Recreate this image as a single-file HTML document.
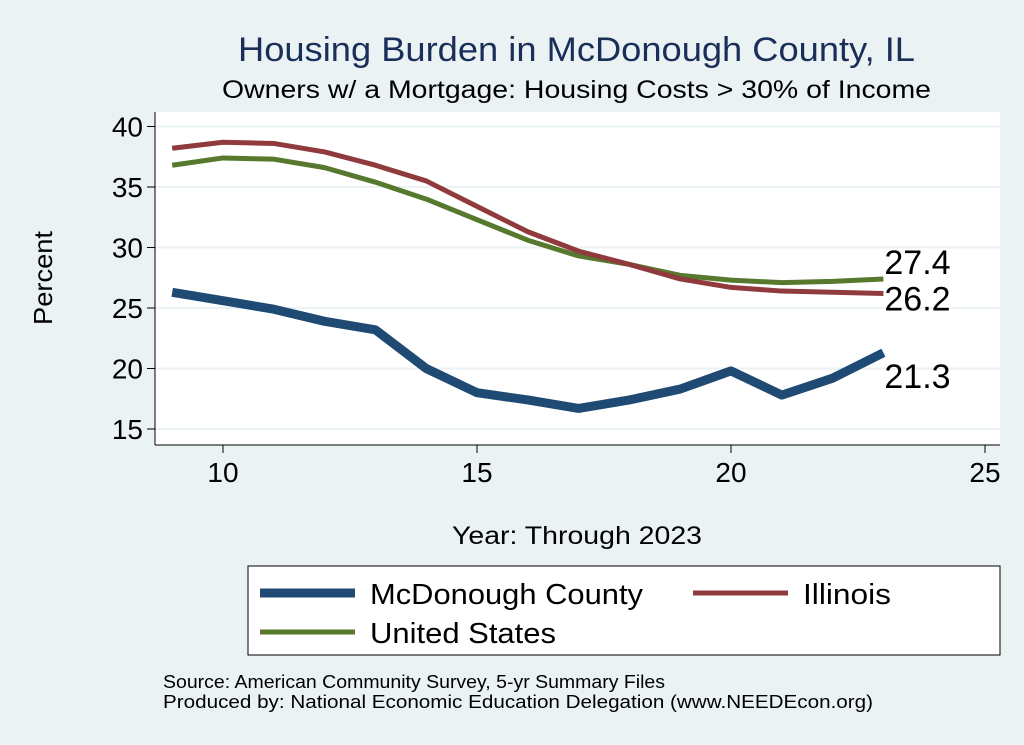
<!DOCTYPE html>
<html><head><meta charset="utf-8"><style>
body{margin:0;background:#eaf2f3;}
svg{display:block;font-family:"Liberation Sans",sans-serif;}
</style></head><body>
<svg id="c" width="1024" height="745">
<rect x="0" y="0" width="1024" height="745" fill="#eaf2f3"/>
<text x="238" y="61" font-size="34" textLength="677" lengthAdjust="spacingAndGlyphs" fill="#1a2e5a">Housing Burden in McDonough County, IL</text>
<text x="222" y="98" font-size="25" textLength="709" lengthAdjust="spacingAndGlyphs" fill="#000">Owners w/ a Mortgage: Housing Costs &gt; 30% of Income</text>
<rect x="155" y="112" width="845" height="333" fill="#fff"/>
<g id="grid"></g><g id="axes"></g><g id="series"></g>
<text x="52" y="278" text-anchor="middle" font-size="26" textLength="94" lengthAdjust="spacingAndGlyphs" transform="rotate(-90 52 278)">Percent</text>
<text x="452" y="544" font-size="25" textLength="250" lengthAdjust="spacingAndGlyphs">Year: Through 2023</text>
<g>
<rect x="248" y="566" width="752" height="89" fill="#fff" stroke="#000" stroke-width="1"/>
<line x1="260" y1="593" x2="355" y2="593" stroke="#1f4a73" stroke-width="9"/>
<text x="370" y="604" font-size="29" textLength="273" lengthAdjust="spacingAndGlyphs">McDonough County</text>
<line x1="693" y1="593" x2="788" y2="593" stroke="#903a3e" stroke-width="5"/>
<text x="803" y="604" font-size="29" textLength="88" lengthAdjust="spacingAndGlyphs">Illinois</text>
<line x1="260" y1="632" x2="355" y2="632" stroke="#56792e" stroke-width="5"/>
<text x="370" y="643" font-size="29" textLength="186" lengthAdjust="spacingAndGlyphs">United States</text>
</g>
<text x="163" y="688" font-size="18" textLength="502" lengthAdjust="spacingAndGlyphs">Source: American Community Survey, 5-yr Summary Files</text>
<text x="163" y="708" font-size="18" textLength="710" lengthAdjust="spacingAndGlyphs">Produced by: National Economic Education Delegation (www.NEEDEcon.org)</text>
</svg>
<script>
const years=[9,10,11,12,13,14,15,16,17,18,19,20,21,22,23];
const mcdonough=[26.3,25.6,24.9,23.9,23.2,20.0,18.0,17.4,16.7,17.4,18.3,19.8,17.8,19.2,21.3];
const illinois=[38.2,38.7,38.6,37.9,36.8,35.5,33.4,31.3,29.7,28.6,27.4,26.7,26.4,26.3,26.2];
const usa=[36.8,37.4,37.3,36.6,35.4,34.0,32.3,30.6,29.3,28.6,27.7,27.3,27.1,27.2,27.4];
const xTicks=[10,15,20,25];
const yTicks=[15,20,25,30,35,40];
const X=v=>223+(v-10)*50.8;
const Y=v=>429-(v-15)*12.1;
const NS="http://www.w3.org/2000/svg";
function mk(p,t,a){const e=document.createElementNS(NS,t);for(const k in a)e.setAttribute(k,a[k]);document.getElementById(p).appendChild(e);return e;}
yTicks.forEach(t=>{
 const g=mk('grid','line',{x1:155,x2:1000,y1:Y(t),y2:Y(t),stroke:'#eaf2f3','stroke-width':2});
 
 
 const tk=mk('axes','line',{x1:147,x2:155,y1:Y(t),y2:Y(t),stroke:'#000'});
 
 
 const l=mk('axes','text',{x:143,y:Y(t)+10,'text-anchor':'end','font-size':28});
 l.textContent=t;
 
 
});
mk('axes','line',{x1:155,x2:155,y1:112,y2:445,stroke:'#000'});
mk('axes','line',{x1:155,x2:1000,y1:445,y2:445,stroke:'#000'});
xTicks.forEach(t=>{
 const tk=mk('axes','line',{x1:X(t),x2:X(t),y1:445,y2:453,stroke:'#000'});
 
 
 const l=mk('axes','text',{x:X(t),y:482,'text-anchor':'middle','font-size':28});
 l.textContent=t;
 
 
});
function line(vals,color,w,name){
 const p=mk('series','polyline',{points:years.map((y,i)=>X(y)+','+Y(vals[i])).join(' '),fill:'none',stroke:color,'stroke-width':w,'stroke-linejoin':'round'});
 
 
}
line(usa,'#56792e',5,'line-united-states');
line(illinois,'#903a3e',5,'line-illinois');
line(mcdonough,'#1f4a73',9,'line-mcdonough');
function lab(vals,dy,name){
 const v=vals[vals.length-1];
 const t=mk('series','text',{x:X(years[years.length-1])+1,y:Y(v)+dy,'font-size':34});
 t.textContent=v.toFixed(1);
 
 
}
lab(usa,-5,'label-united-states-last');
lab(illinois,17,'label-illinois-last');
lab(mcdonough,35,'label-mcdonough-last');
</script>
</body></html>
